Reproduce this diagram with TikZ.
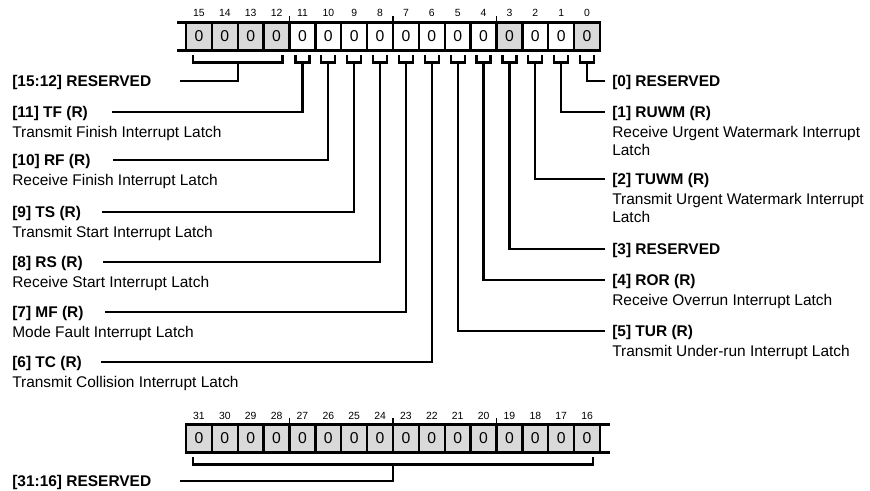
\documentclass[tikz,border=0pt]{standalone}
\usepackage{fontspec}
\setmainfont{Liberation Sans}
\usetikzlibrary{calc,positioning}

\tikzset{
  regcell/.style={draw, line width=1.7pt, minimum width=19.406pt, minimum height=21pt, inner sep=0pt, outer sep=0pt, font=\fontsize{11.8}{13}\selectfont},
  bitnum/.style={inner sep=0pt, font=\fontsize{7.8}{8}\selectfont},
  fldname/.style={inner sep=0pt, anchor=base west, font=\fontsize{11.6}{13.5}\selectfont\bfseries},
  flddesc/.style={inner sep=0pt, align=left, font=\fontsize{11.6}{13.5}\selectfont},
  wire/.style={line width=1.7pt},
  nibtick/.style={line width=1pt},
}

\begin{document}
\begin{tikzpicture}[x=0.75pt,y=-0.75pt,line cap=butt,line join=miter]
\useasboundingbox (0,0) rectangle (870,490);

% register bits 15..0
\foreach \b in {15,...,0}{
  \pgfmathsetmacro{\cx}{186+(15.5-\b)*25.875}
  \def\fillc{white}
  \ifnum\b>11 \def\fillc{gray!30}\fi
  \ifnum\b=3 \def\fillc{gray!30}\fi
  \ifnum\b=0 \def\fillc{gray!30}\fi
  \node[regcell, fill=\fillc] (t\b) at (\cx,36.5) {0};
  \node[bitnum] (m\b) at (\cx,13.3) {\b};
}
\foreach \b in {12,8,4} \draw[nibtick] (t\b.north east) -- ++(0,-6.5);
\draw[wire] (t15.north west) -- ++(-9.5,0);
\draw[wire] (t15.south west) -- ++(-9.5,0);

% register bits 31..16
\foreach \b in {31,...,16}{
  \pgfmathsetmacro{\cx}{186+(31.5-\b)*25.875}
  \node[regcell, fill=gray!30] (b\b) at (\cx,438.5) {0};
  \node[bitnum] (m\b) at (\cx,415.8) {\b};
}
\foreach \b in {28,24,20} \draw[nibtick] (b\b.north east) -- ++(0,-6.5);
\draw[wire] (b16.north east) -- ++(10,0);
\draw[wire] (b16.south east) -- ++(10,0);

% brackets
\foreach \b in {11,...,0}{
  \draw[wire] ($(t\b.south)+(-7,4.5)$) -- ++(0,7.5) -- ++(14,0) -- ++(0,-7.5);
  \coordinate (k\b) at ($(t\b.south)+(0,12)$);
}
\draw[wire] ($(t15.south west)+(7,4.5)$) -- ++(0,7.5) -| ($(t12.south east)+(-7,4.5)$);
\coordinate (k15) at ($(t15.south west)!0.5!(t12.south east)+(0,12)$);
\draw[wire] ($(b31.south west)+(7,4.5)$) -- ++(0,7.5) -| ($(b16.south east)+(-7,4.5)$);
\coordinate (k31) at ($(b24.south east)+(0,12)$);

% reserved fields
\coordinate (e15) at (180,80.7);
\draw[wire] (k15) |- (e15);
\node[fldname] (f15) at (12,86.2) {[15:12] RESERVED};
\coordinate (e31) at (180,481);
\draw[wire] (k31) |- (e31);
\node[fldname] (f31) at (12,486.5) {[31:16] RESERVED};
\coordinate (e0) at (605,80.7);
\draw[wire] (k0) |- (e0);
\node[fldname] (f0) at (612,86.2) {[0] RESERVED};
\coordinate (e3) at (605,249.3);
\draw[wire] (k3) |- (e3);
\node[fldname] (f3) at (612,254.8) {[3] RESERVED};

% left side fields
\foreach \b/\ex/\ey/\nm/\ds in {11/111.7/111.7/TF/Transmit Finish, 10/113/160/RF/Receive Finish,
    9/101.7/211.7/TS/Transmit Start, 8/102.7/261.7/RS/Receive Start,
    7/105/311.7/MF/Mode Fault, 6/100.7/361.7/TC/Transmit Collision}{
  \coordinate (e\b) at (\ex,\ey);
  \draw[wire] (k\b) |- (e\b);
  \node[fldname] (f\b) at (12,\ey+5.5) {[\b] \nm\ (R)};
  \node[flddesc, below right=3.7pt and 0pt of f\b.south west] (d\b) {\ds\ Interrupt Latch};
}

% right side fields
\foreach \b/\ey/\nm/\ds in {1/111.7/RUWM/{Receive Urgent Watermark Interrupt\\Latch},
    2/179.3/TUWM/{Transmit Urgent Watermark Interrupt\\Latch},
    4/280/ROR/{Receive Overrun Interrupt Latch}, 5/330.7/TUR/{Transmit Under-run Interrupt Latch}}{
  \coordinate (e\b) at (605,\ey);
  \draw[wire] (k\b) |- (e\b);
  \node[fldname] (f\b) at (612,\ey+5.5) {[\b] \nm\ (R)};
  \node[flddesc, below right=3.7pt and 0pt of f\b.south west] (d\b) {\ds};
}
\end{tikzpicture}
\end{document}
